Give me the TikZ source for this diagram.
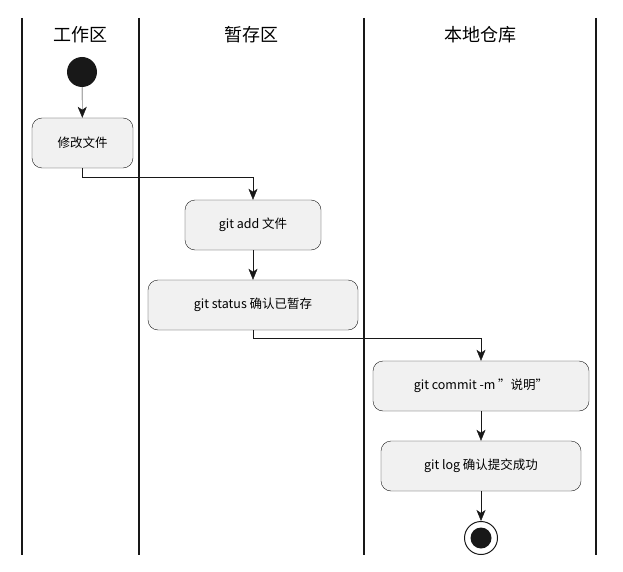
\documentclass[tikz,border=0pt]{standalone}
\usepackage{fontspec}
\setmainfont{Noto Sans CJK SC}
\usetikzlibrary{arrows.meta}
\definecolor{actfill}{HTML}{F1F1F1}
\definecolor{ink}{HTML}{181818}
\begin{document}
\begin{tikzpicture}[x=1pt,y=-1pt]
\tikzstyle{act}=[rectangle,rounded corners=10pt,draw=ink,fill=actfill,minimum height=50pt,inner xsep=14pt,font=\fontsize{12.5}{15}\selectfont]
\tikzstyle{lane}=[font=\fontsize{18}{22}\selectfont]
\tikzstyle{flow}=[draw=ink,-{Stealth[length=11pt,width=9pt,inset=3pt]}]
\useasboundingbox (0,0) rectangle (623,572);
% swimlanes
\foreach \x in {22,139,364,596}
  \draw[line width=1.5pt,ink] (\x,18) -- (\x,555);
\node [lane] (h1) at (80.5,35) {工作区};
\node [lane] (h2) at (251.5,35) {暂存区};
\node [lane] (h3) at (480,35) {本地仓库};
% activities
\node [circle,fill=ink,minimum size=30pt,inner sep=0pt] (start) at (82,72) {};
\node [act,minimum width=101pt] (edit) at (82.5,143) {修改文件};
\node [act,minimum width=136pt] (add) at (253,225) {git add 文件};
\node [act,minimum width=210pt] (status) at (253,305) {git status 确认已暂存};
\node [act,minimum width=216pt] (commit) at (481,386) {git commit -m "说明"};
\node [act,minimum width=200pt] (log) at (481,466) {git log 确认提交成功};
\node [circle,draw=ink,line width=1pt,minimum size=33pt,inner sep=0pt] (stop) at (481,538) {};
\node [circle,fill=ink,minimum size=21pt,inner sep=0pt] at (stop) {};
% connectors
\draw [flow] (start) -- (edit);
\draw [flow] (edit.south) -- ++(0,9) -| (add.north);
\draw [flow] (add) -- (status);
\draw [flow] (status.south) -- ++(0,8) -| (commit.north);
\draw [flow] (commit) -- (log);
\draw [flow] (log) -- (stop);
\end{tikzpicture}
\end{document}
